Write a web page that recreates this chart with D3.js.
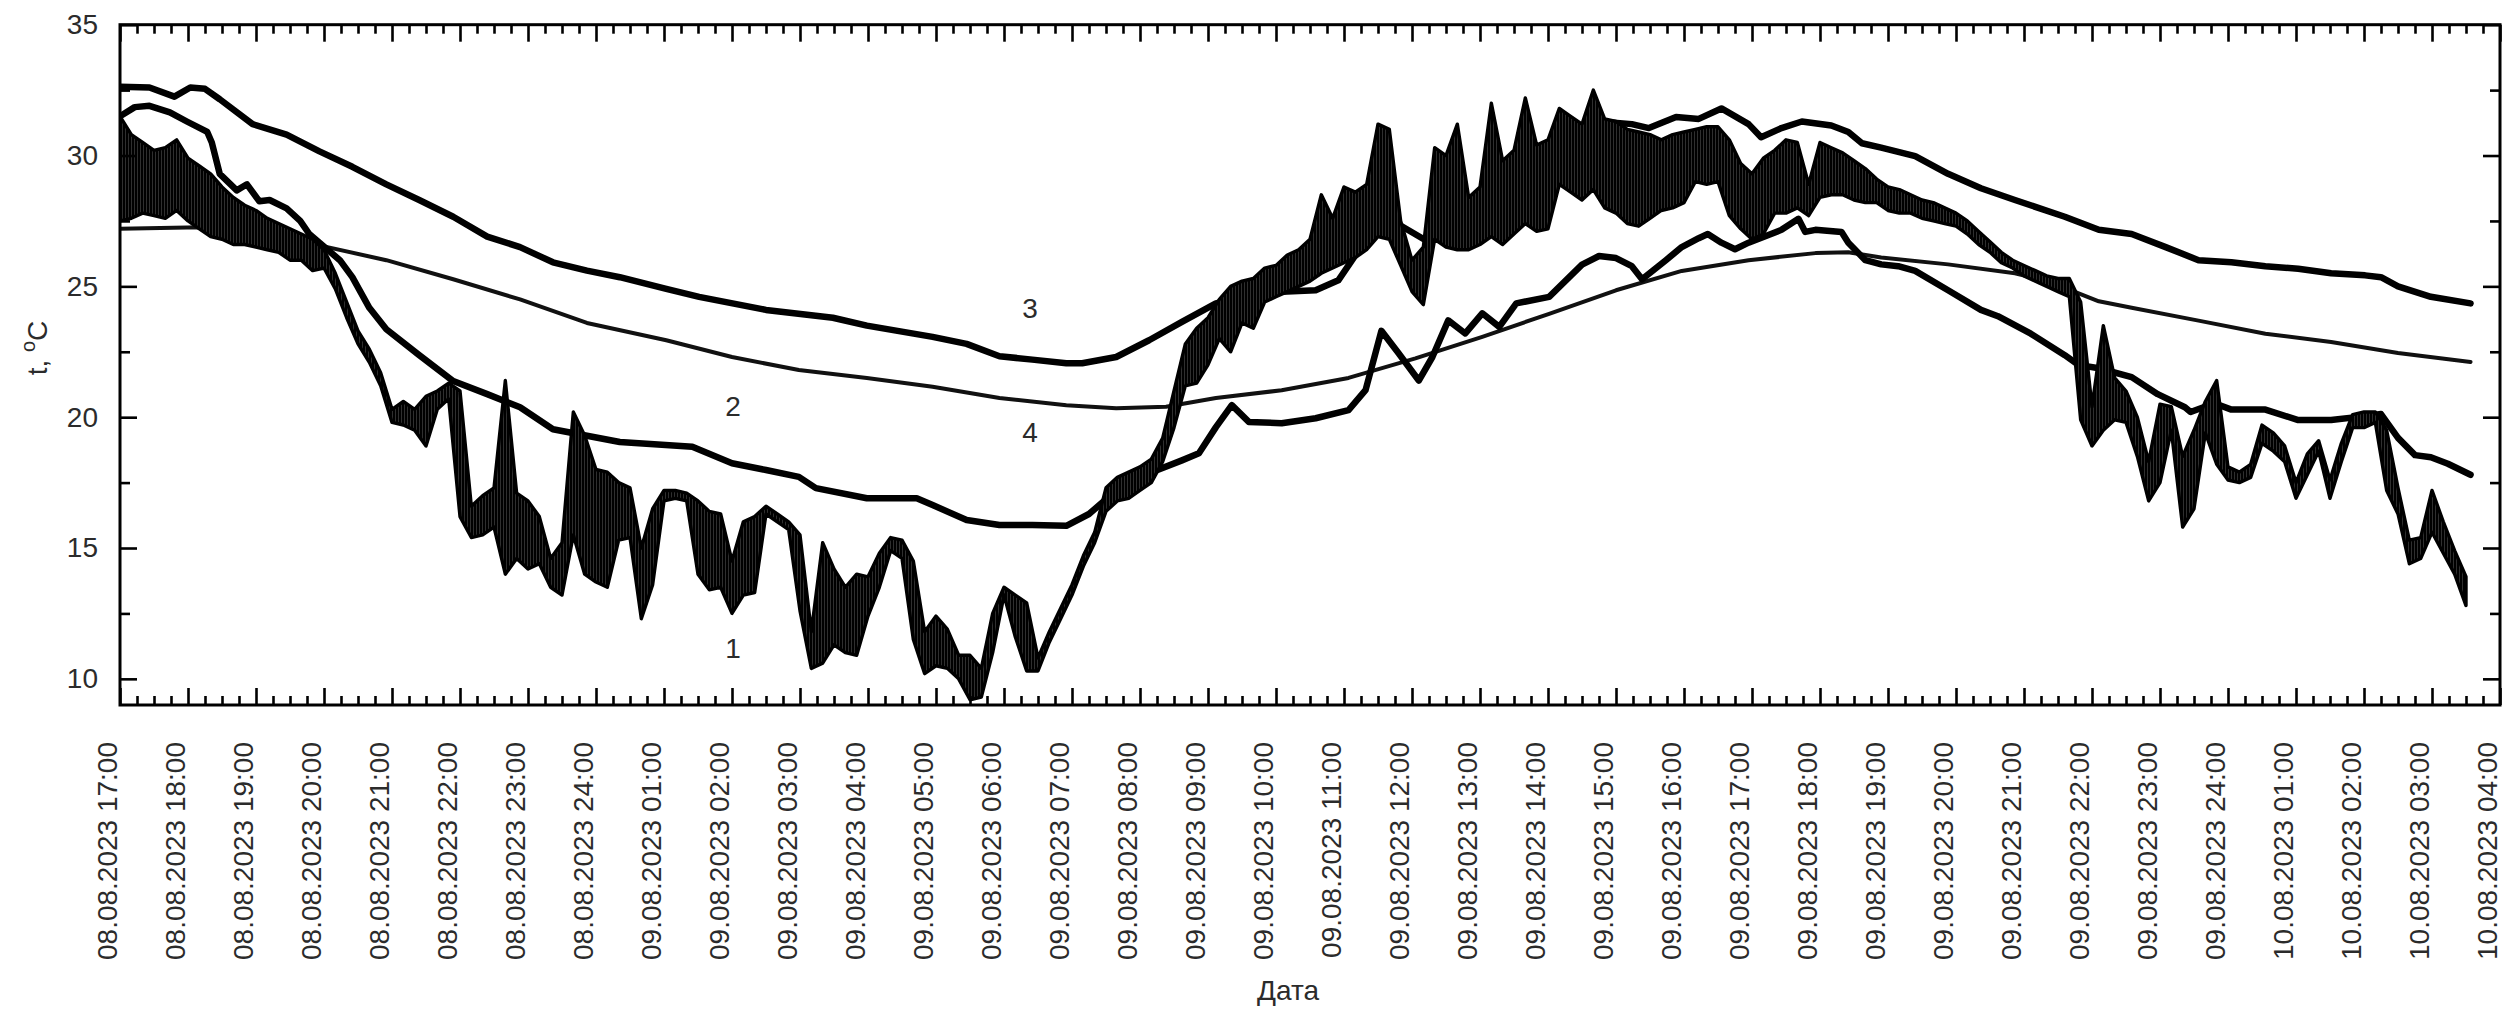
<!DOCTYPE html>
<html>
<head>
<meta charset="utf-8">
<script src="https://cdn.jsdelivr.net/npm/d3@7"></script>
<style>
  html, body { margin: 0; padding: 0; background: #fff; }
  svg { display: block; font-family: "Liberation Sans", Arial, sans-serif; }
</style>
</head>
<body>
<svg id="chart" width="2502" height="1012"></svg>
<script>
// Time is counted in minutes from 08.08.2023 17:00.
const xTickLabels = [
  "08.08.2023 17:00", "08.08.2023 18:00", "08.08.2023 19:00", "08.08.2023 20:00",
  "08.08.2023 21:00", "08.08.2023 22:00", "08.08.2023 23:00", "08.08.2023 24:00",
  "09.08.2023 01:00", "09.08.2023 02:00", "09.08.2023 03:00", "09.08.2023 04:00",
  "09.08.2023 05:00", "09.08.2023 06:00", "09.08.2023 07:00", "09.08.2023 08:00",
  "09.08.2023 09:00", "09.08.2023 10:00", "09.08.2023 11:00", "09.08.2023 12:00",
  "09.08.2023 13:00", "09.08.2023 14:00", "09.08.2023 15:00", "09.08.2023 16:00",
  "09.08.2023 17:00", "09.08.2023 18:00", "09.08.2023 19:00", "09.08.2023 20:00",
  "09.08.2023 21:00", "09.08.2023 22:00", "09.08.2023 23:00", "09.08.2023 24:00",
  "10.08.2023 01:00", "10.08.2023 02:00", "10.08.2023 03:00", "10.08.2023 04:00"
];
const yTickValues = [10, 15, 20, 25, 30, 35];
const yMinorValues = [12.5, 17.5, 22.5, 27.5, 32.5];

// Series 1: fast sensor, min / max per 10-minute interval
const series1Step = 10;
const series1Low = [
  27.5, 27.6, 27.8, 27.7, 27.6, 27.9, 27.5, 27.2, 26.9, 26.8,
  26.6, 26.6, 26.5, 26.4, 26.3, 26.0, 26.0, 25.6, 25.7, 24.9,
  23.8, 22.8, 22.1, 21.2, 19.8, 19.7, 19.5, 18.9, 20.3, 20.7,
  16.2, 15.4, 15.5, 15.8, 14.0, 14.6, 14.2, 14.4, 13.5, 13.2,
  15.5, 14.0, 13.7, 13.5, 15.3, 15.4, 12.3, 13.6, 16.8, 16.9,
  16.8, 14.0, 13.4, 13.5, 12.5, 13.2, 13.3, 16.3, 16.0, 15.7,
  12.6, 10.4, 10.6, 11.3, 11.0, 10.9, 12.4, 13.5, 14.9, 14.6,
  11.5, 10.2, 10.5, 10.4, 10.0, 9.2, 9.3, 11.0, 13.2, 11.6,
  10.3, 10.3, 11.4, 12.3, 13.2, 14.3, 15.2, 16.4, 16.8, 16.9,
  17.2, 17.5, 18.3, 19.6, 21.2, 21.3, 22.0, 23.0, 22.5, 23.6,
  23.4, 24.4, 24.6, 24.8, 25.0, 25.2, 25.5, 25.7, 25.9, 26.1,
  26.4, 26.9, 26.8, 25.8, 24.8, 24.3, 26.8, 26.5, 26.4, 26.4,
  26.6, 26.9, 26.6, 27.0, 27.4, 27.1, 27.2, 28.9, 28.6, 28.3,
  28.7, 28.0, 27.8, 27.4, 27.3, 27.6, 27.9, 28.0, 28.2, 29.0,
  28.9, 29.0, 27.7, 27.2, 26.8, 27.0, 27.8, 27.8, 28.0, 27.7,
  28.4, 28.5, 28.5, 28.3, 28.2, 28.2, 27.9, 27.8, 27.8, 27.6,
  27.5, 27.4, 27.3, 27.0, 26.6, 26.3, 25.9, 25.7, 25.4, 25.2,
  25.0, 24.8, 24.6, 19.9, 18.9, 19.5, 19.9, 19.8, 18.5, 16.8,
  17.5, 19.5, 15.8, 16.5, 19.4, 18.2, 17.6, 17.5, 17.7, 19.0,
  18.7, 18.3, 16.9, 17.8, 18.7, 16.9, 18.3, 19.6, 19.6, 19.8,
  17.2, 16.3, 14.4, 14.6, 15.6, 14.8, 14.0, 12.8
];
const series1High = [
  31.5, 30.8, 30.5, 30.2, 30.3, 30.6, 29.9, 29.6, 29.3, 28.8,
  28.4, 28.1, 27.9, 27.6, 27.4, 27.2, 27.0, 26.8, 26.4, 25.5,
  24.4, 23.3, 22.6, 21.7, 20.3, 20.6, 20.3, 20.8, 21.0, 21.3,
  21.0, 16.6, 17.0, 17.3, 21.4, 17.1, 16.8, 16.2, 14.6, 15.2,
  20.2, 19.3, 18.0, 17.9, 17.5, 17.3, 15.0, 16.5, 17.2, 17.2,
  17.1, 16.8, 16.4, 16.3, 14.5, 16.0, 16.2, 16.6, 16.3, 16.0,
  15.5, 11.8, 15.2, 14.2, 13.5, 14.0, 13.9, 14.8, 15.4, 15.3,
  14.5, 11.8, 12.4, 11.9, 10.9, 10.9, 10.4, 12.5, 13.5, 13.2,
  12.9, 10.8, 11.8, 12.7, 13.6, 14.7, 15.6, 17.3, 17.7, 17.9,
  18.1, 18.4, 19.2, 21.0, 22.8, 23.4, 23.8, 24.5, 25.0, 25.2,
  25.3, 25.7, 25.8, 26.2, 26.4, 26.8, 28.5, 27.6, 28.8, 28.6,
  28.9, 31.2, 31.0, 27.5, 26.0, 26.5, 30.3, 30.0, 31.2, 28.4,
  28.8, 32.0, 29.8, 30.2, 32.2, 30.4, 30.6, 31.8, 31.5, 31.2,
  32.5, 31.4, 31.3, 31.0, 30.9, 30.8, 30.6, 30.8, 30.9, 31.0,
  31.1, 31.1, 30.6, 29.7, 29.3, 29.9, 30.2, 30.6, 30.5, 28.9,
  30.5, 30.3, 30.1, 29.8, 29.5, 29.1, 28.8, 28.7, 28.5, 28.3,
  28.2, 28.0, 27.8, 27.5, 27.1, 26.7, 26.3, 26.0, 25.8, 25.6,
  25.4, 25.3, 25.3, 24.4, 20.4, 23.5, 21.5, 21.0, 20.0, 18.3,
  20.5, 20.4, 18.5, 19.5, 20.6, 21.4, 18.1, 17.9, 18.2, 19.7,
  19.4, 18.9, 17.5, 18.6, 19.1, 17.6, 19.0, 20.1, 20.2, 20.2,
  19.5, 17.3, 15.3, 15.4, 17.2, 16.0, 14.9, 13.9
];

// Series 2
const series2Time = [
  0, 13, 26, 44, 59, 77, 81, 88, 103, 112, 123, 132, 147, 159, 167, 176, 194, 205,
  220, 235, 264, 294, 324, 353, 382, 412, 441, 505, 540, 570, 599, 614, 659, 703,
  717, 747, 776, 805, 835, 855, 879, 908, 937, 952, 967, 981, 996, 1025, 1055, 1084,
  1099, 1113, 1128, 1146, 1158, 1172, 1187, 1202, 1217, 1232, 1261, 1290, 1305, 1320,
  1334, 1343, 1364, 1378, 1393, 1401, 1413, 1425, 1437, 1466, 1481, 1487, 1496, 1519,
  1525, 1540, 1554, 1569, 1584, 1613, 1642, 1657, 1686, 1716, 1728, 1746, 1775, 1798,
  1822, 1827, 1848, 1863, 1893, 1922, 1951, 1981, 1995, 2010, 2025, 2039, 2054, 2074
];
const series2Temp = [
  31.5, 31.85, 31.9, 31.65, 31.3, 30.9, 30.5, 29.3, 28.67, 28.9, 28.25, 28.3, 27.98, 27.5, 27.0, 26.67, 26.0, 25.35,
  24.18, 23.36, 22.37, 21.38, 20.88, 20.38, 19.54, 19.29, 19.05, 18.87, 18.24, 17.98, 17.72, 17.29, 16.9, 16.9,
  16.64, 16.07, 15.88, 15.88, 15.85, 16.3, 17.2, 17.86, 18.35, 18.62, 19.62, 20.46, 19.82, 19.77, 19.96, 20.27,
  21.03, 23.3, 22.45, 21.4, 22.3, 23.7, 23.2, 23.97, 23.45, 24.35, 24.6, 25.83, 26.16, 26.08,
  25.77, 25.27, 26.0, 26.5, 26.84, 27.0, 26.67, 26.42, 26.67, 27.16, 27.58, 27.08, 27.16, 27.08,
  26.67, 26.0, 25.84, 25.77, 25.59, 24.85, 24.1, 23.86, 23.19, 22.37, 22.0, 21.87, 21.53, 20.88,
  20.38, 20.2, 20.53, 20.29, 20.29, 19.89, 19.89, 20.04, 20.12, 19.21, 18.55, 18.47, 18.22, 17.8
];

// Series 3
const series3Time = [
  0, 26, 48, 62, 75, 88, 117, 147, 176, 205, 235, 264, 294, 324, 353, 382, 412, 441,
  482, 511, 570, 629, 659, 717, 747, 776, 805, 835, 849, 879, 908, 937, 967, 996,
  1025, 1055, 1075, 1099, 1117, 1152, 1172, 1195, 1225, 1260, 1290, 1305, 1334, 1349,
  1373, 1393, 1413, 1437, 1448, 1466, 1484, 1510, 1525, 1537, 1554, 1584, 1613, 1642,
  1672, 1716, 1746, 1775, 1805, 1834, 1863, 1893, 1922, 1951, 1981, 1995, 2010, 2039, 2074
];
const series3Temp = [
  32.63, 32.6, 32.25, 32.6, 32.55, 32.15, 31.2, 30.8, 30.16, 29.57, 28.9, 28.3, 27.66, 26.9, 26.5, 25.92, 25.6, 25.35,
  24.9, 24.6, 24.1, 23.8, 23.5, 23.07, 22.8, 22.33, 22.2, 22.06, 22.06, 22.3, 22.94, 23.64, 24.35, 24.66,
  24.79, 24.85, 25.23, 26.76, 27.65, 26.76, 27.65, 28.1, 28.6, 29.7, 30.6, 31.3, 31.2, 31.05,
  31.47, 31.4, 31.8, 31.2, 30.7, 31.05, 31.3, 31.15, 30.9, 30.47, 30.3, 29.98, 29.3, 28.75,
  28.3, 27.66, 27.16, 27.0, 26.5, 26.0, 25.92, 25.77, 25.67, 25.5, 25.42, 25.35, 25.0, 24.6, 24.35
];

// Series 4
const series4Time = [
  0, 71, 117, 165, 235, 294, 353, 412, 482, 540, 599, 659, 717, 776, 835, 879, 923, 967,
  1025, 1084, 1143, 1202, 1261, 1320, 1378, 1437, 1496, 1525, 1554, 1613, 1672, 1701,
  1746, 1775, 1834, 1893, 1951, 2010, 2074
];
const series4Temp = [
  27.2, 27.26, 27.16, 26.67, 26.0, 25.27, 24.5, 23.6, 22.94, 22.3, 21.8, 21.5, 21.16, 20.73, 20.46, 20.34, 20.4, 20.73,
  21.03, 21.5, 22.25, 23.07, 23.95, 24.85, 25.59, 26.0, 26.27, 26.3, 26.1, 25.84, 25.5, 25.2,
  24.43, 24.18, 23.69, 23.19, 22.87, 22.45, 22.11
];

// Curve numbers placed next to their lines (time in minutes, temperature)
const curveNames = ["1", "2", "3", "4"];
const curveNameTime = [541, 541, 803, 803];
const curveNameTemp = [11.15, 20.4, 24.17, 19.4];

// ---- layout ----
const plot = { left: 120, right: 2500, top: 24.7, bottom: 705 };
const totalMinutes = (xTickLabels.length - 1) * 60;

const svg = d3.select("#chart");

const x = d3.scaleLinear().domain([0, totalMinutes]).range([plot.left, plot.right]);
const y = d3.scaleLinear().domain([9, 35]).range([plot.bottom, plot.top]);

const defs = svg.append("defs");
defs.append("clipPath").attr("id", "plotClip")
  .append("rect")
  .attr("x", plot.left).attr("y", plot.top)
  .attr("width", plot.right - plot.left).attr("height", plot.bottom - plot.top);

// dense vertical hatching used to fill the fast-sensor band
const hatch = defs.append("pattern").attr("id", "hatch")
  .attr("patternUnits", "userSpaceOnUse").attr("width", 3).attr("height", 4);
hatch.append("rect").attr("width", 3).attr("height", 4).attr("fill", "#3a3a3a");
hatch.append("rect").attr("width", 2.2).attr("height", 4).attr("fill", "#000");

const textColor = "#2b2b2b";

// ---- series ----
const g = svg.append("g").attr("clip-path", "url(#plotClip)");

const lineGen = d3.line().x(d => x(d[0])).y(d => y(d[1]));

function lineData(times, temps) { return times.map((t, i) => [t, temps[i]]); }

g.append("path")
  .attr("d", lineGen(lineData(series4Time, series4Temp)))
  .attr("fill", "none").attr("stroke", "#111").attr("stroke-width", 4)
  .attr("stroke-linejoin", "round").attr("stroke-linecap", "round");

g.append("path")
  .attr("d", lineGen(lineData(series3Time, series3Temp)))
  .attr("fill", "none").attr("stroke", "#000").attr("stroke-width", 6.5)
  .attr("stroke-linejoin", "round").attr("stroke-linecap", "round");

g.append("path")
  .attr("d", lineGen(lineData(series2Time, series2Temp)))
  .attr("fill", "none").attr("stroke", "#000").attr("stroke-width", 6.5)
  .attr("stroke-linejoin", "round").attr("stroke-linecap", "round");

const band1 = series1Low.map((lo, i) => ({ t: i * series1Step, lo: lo, hi: series1High[i] }));
const areaGen = d3.area().x(d => x(d.t)).y0(d => y(d.lo)).y1(d => y(d.hi));
g.append("path")
  .attr("d", areaGen(band1))
  .attr("fill", "url(#hatch)").attr("stroke", "#000").attr("stroke-width", 3.4)
  .attr("stroke-linejoin", "round");

// ---- axes ----
const majorMinutes = d3.range(0, totalMinutes + 1, 60);
const minorMinutes = d3.range(0, totalMinutes + 1, 15).filter(m => m % 60 !== 0);

function styleAxis(sel) {
  sel.select(".domain").remove();
  sel.selectAll(".tick line").attr("stroke", "#000").attr("stroke-width", 2.6);
}

// bottom
svg.append("g").attr("transform", `translate(0,${plot.bottom})`)
  .call(d3.axisBottom(x).tickValues(majorMinutes).tickSize(-17).tickFormat(""))
  .call(styleAxis);
svg.append("g").attr("transform", `translate(0,${plot.bottom})`)
  .call(d3.axisBottom(x).tickValues(minorMinutes).tickSize(-9).tickFormat(""))
  .call(styleAxis);
// top
svg.append("g").attr("transform", `translate(0,${plot.top})`)
  .call(d3.axisTop(x).tickValues(majorMinutes).tickSize(-17).tickFormat(""))
  .call(styleAxis);
svg.append("g").attr("transform", `translate(0,${plot.top})`)
  .call(d3.axisTop(x).tickValues(minorMinutes).tickSize(-9).tickFormat(""))
  .call(styleAxis);
// left
const leftAxis = svg.append("g").attr("transform", `translate(${plot.left},0)`)
  .call(d3.axisLeft(y).tickValues(yTickValues).tickSize(-17).tickPadding(22).tickFormat(d3.format("d")))
  .call(styleAxis);
leftAxis.selectAll(".tick text")
  .attr("font-size", 28).attr("fill", textColor)
  .attr("font-family", "'Liberation Sans', Arial, sans-serif");
svg.append("g").attr("transform", `translate(${plot.left},0)`)
  .call(d3.axisLeft(y).tickValues(yMinorValues).tickSize(-10).tickFormat(""))
  .call(styleAxis);
// right
svg.append("g").attr("transform", `translate(${plot.right},0)`)
  .call(d3.axisRight(y).tickValues(yTickValues).tickSize(-17).tickFormat(""))
  .call(styleAxis);
svg.append("g").attr("transform", `translate(${plot.right},0)`)
  .call(d3.axisRight(y).tickValues(yMinorValues).tickSize(-10).tickFormat(""))
  .call(styleAxis);

// frame
svg.append("rect")
  .attr("x", plot.left).attr("y", plot.top)
  .attr("width", plot.right - plot.left).attr("height", plot.bottom - plot.top)
  .attr("fill", "none").attr("stroke", "#000").attr("stroke-width", 3);

// rotated date labels
svg.append("g").selectAll("text")
  .data(xTickLabels)
  .join("text")
  .attr("transform", (d, i) => `translate(${x(majorMinutes[i]) - 3},742) rotate(-90)`)
  .attr("text-anchor", "end")
  .attr("font-size", 28)
  .attr("fill", textColor)
  .text(d => d);

// axis titles
svg.append("text")
  .attr("x", 1288).attr("y", 1000)
  .attr("text-anchor", "middle")
  .attr("font-size", 28).attr("fill", textColor)
  .text("Дата");

const yTitle = svg.append("text")
  .attr("transform", "translate(47,348) rotate(-90)")
  .attr("text-anchor", "middle")
  .attr("font-size", 28).attr("fill", textColor);
yTitle.append("tspan").text("t, ");
yTitle.append("tspan").attr("font-size", 20).attr("dy", -12).text("o");
yTitle.append("tspan").attr("dy", 12).text("C");

// curve numbers
svg.append("g").selectAll("text")
  .data(curveNames)
  .join("text")
  .attr("x", (d, i) => x(curveNameTime[i]))
  .attr("y", (d, i) => y(curveNameTemp[i]))
  .attr("text-anchor", "middle")
  .attr("dominant-baseline", "central")
  .attr("font-size", 28).attr("fill", textColor)
  .text(d => d);
</script>
</body>
</html>
